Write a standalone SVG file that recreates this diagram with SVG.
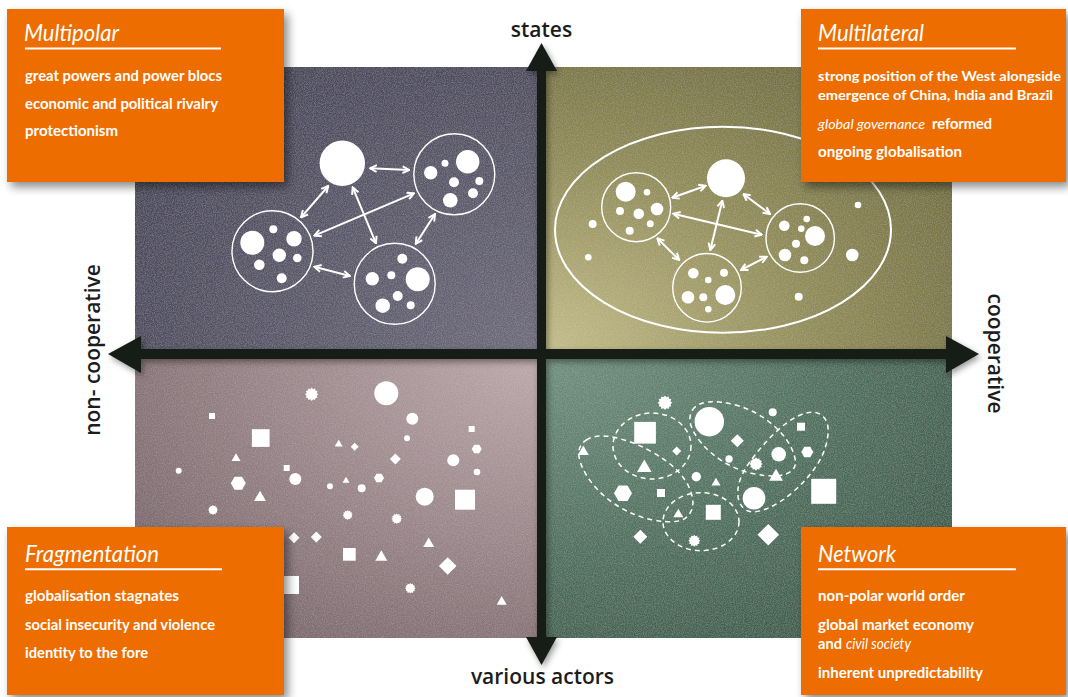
<svg xmlns="http://www.w3.org/2000/svg" xmlns:xlink="http://www.w3.org/1999/xlink" width="1068" height="697" viewBox="0 0 1068 697">
<defs>
<style>
.box{fill:#ee6d00;}
.ttl{font-family:Lato,"Open Sans","Liberation Sans",sans-serif;font-style:italic;font-size:24px;fill:#fff;}
.bd{font-family:Lato,"Open Sans","Liberation Sans",sans-serif;font-weight:700;font-size:15.5px;fill:#fff;}
.sm{font-size:14px;}
.it{font-style:italic;font-weight:400;}
.ul{stroke:#fff;stroke-width:2;}
.ax{font-family:"Open Sans","Liberation Sans",sans-serif;font-weight:600;font-size:21px;fill:#1c1c1c;}
.ring{fill:none;stroke:#fff;stroke-width:1.4;}
.dot{fill:#fff;}
.arr{stroke:#fff;stroke-width:2;fill:none;marker-start:url(#ah);marker-end:url(#ah);}
.dash{fill:none;stroke:#fff;stroke-width:1.5;stroke-dasharray:5 4;}
.w{fill:#fff;}
</style>
<marker id="ah" viewBox="0 0 10 10" refX="9" refY="5" markerWidth="9" markerHeight="9" markerUnits="userSpaceOnUse" orient="auto-start-reverse">
<path d="M1.5,1.2 L9,5 L1.5,8.8" fill="none" stroke="#fff" stroke-width="2.2"/>
</marker>
<path id="star" d="M10,0 L7.53,2.02 L8.66,5 L5.52,5.52 L5,8.66 L2.02,7.53 L0,10 L-2.02,7.53 L-5,8.66 L-5.52,5.52 L-8.66,5 L-7.53,2.02 L-10,0 L-7.53,-2.02 L-8.66,-5 L-5.52,-5.52 L-5,-8.66 L-2.02,-7.53 L0,-10 L2.02,-7.53 L5,-8.66 L5.52,-5.52 L8.66,-5 L7.53,-2.02 Z"/>
<path id="tri" d="M0,-10 L10,7.3 L-10,7.3 Z"/>
<path id="dia" d="M0,-10 L10,0 L0,10 L-10,0 Z"/>
<path id="hex" d="M10,0 L5,8.66 L-5,8.66 L-10,0 L-5,-8.66 L5,-8.66 Z"/>
<radialGradient id="gTL" cx="1" cy="1" r="1.25"><stop offset="0" stop-color="#6d6a7b"/><stop offset="1" stop-color="#464457"/></radialGradient>
<radialGradient id="gTR" cx="0" cy="1" r="1.25"><stop offset="0" stop-color="#c3bc88"/><stop offset="0.55" stop-color="#8f8a55"/><stop offset="1" stop-color="#6e693b"/></radialGradient>
<radialGradient id="gBL" cx="1" cy="0" r="1.25"><stop offset="0" stop-color="#bba8ab"/><stop offset="0.55" stop-color="#988488"/><stop offset="1" stop-color="#78656a"/></radialGradient>
<radialGradient id="gBR" cx="0" cy="0" r="1.25"><stop offset="0" stop-color="#70907f"/><stop offset="0.55" stop-color="#4f705f"/><stop offset="1" stop-color="#3b5a4a"/></radialGradient>
<filter id="grain" x="0" y="0" width="1" height="1">
<feTurbulence type="fractalNoise" baseFrequency="0.9" numOctaves="2" seed="4" result="n"/>
<feColorMatrix in="n" type="matrix" values="0 0 0 0 1  0 0 0 0 1  0 0 0 0 1  0.25 0 0 0 -0.09" result="w"/>
<feComposite in="w" in2="SourceGraphic" operator="in" result="wi"/>
<feMerge><feMergeNode in="SourceGraphic"/><feMergeNode in="wi"/></feMerge>
</filter>
<filter id="sh" x="-10%" y="-10%" width="125%" height="125%">
<feDropShadow dx="4" dy="5" stdDeviation="5" flood-color="#000" flood-opacity="0.45"/>
</filter>
<filter id="ash" x="-10%" y="-10%" width="120%" height="120%">
<feDropShadow dx="2" dy="3" stdDeviation="3" flood-color="#000" flood-opacity="0.4"/>
</filter>
</defs>

<rect width="1068" height="697" fill="#fff"/>

<g id="quadrants" filter="url(#grain)">
<rect x="135" y="67" width="402" height="282" fill="url(#gTL)"/>
<rect x="546" y="67" width="406" height="282" fill="url(#gTR)"/>
<rect x="135" y="359" width="402" height="279" fill="url(#gBL)"/>
<rect x="546" y="359" width="406" height="279" fill="url(#gBR)"/>
</g>

<g id="multipolar-graphic">
<circle class="dot" cx="342.3" cy="163.3" r="22.7"/>
<circle class="ring" cx="454.3" cy="174.3" r="40.5"/>
<circle class="dot" cx="467.7" cy="161.7" r="11.7"/>
<circle class="dot" cx="445" cy="163.3" r="3.5"/>
<circle class="dot" cx="430.7" cy="172.7" r="6.7"/>
<circle class="dot" cx="454" cy="182.3" r="5"/>
<circle class="dot" cx="479.3" cy="181" r="4"/>
<circle class="dot" cx="473" cy="193.3" r="5"/>
<circle class="dot" cx="450.3" cy="200.3" r="7.3"/>
<circle class="ring" cx="272.5" cy="251.2" r="40.5"/>
<circle class="dot" cx="252.3" cy="242.7" r="12"/>
<circle class="dot" cx="273.3" cy="229.3" r="4"/>
<circle class="dot" cx="294" cy="238.7" r="7.7"/>
<circle class="dot" cx="279.3" cy="255.3" r="6.7"/>
<circle class="dot" cx="297.3" cy="258" r="4.3"/>
<circle class="dot" cx="259.3" cy="264.7" r="5.3"/>
<circle class="dot" cx="281.7" cy="278.3" r="5"/>
<circle class="ring" cx="394.7" cy="283.8" r="40.5"/>
<circle class="dot" cx="417.7" cy="279.3" r="12"/>
<circle class="dot" cx="402.3" cy="258.7" r="5"/>
<circle class="dot" cx="372.3" cy="278.7" r="6.7"/>
<circle class="dot" cx="391.3" cy="275.3" r="4"/>
<circle class="dot" cx="397.7" cy="296" r="5"/>
<circle class="dot" cx="382.7" cy="305.7" r="7.3"/>
<circle class="dot" cx="410.7" cy="305.3" r="4"/>
</g>

<g id="multilateral-graphic">
<ellipse class="ring" cx="723" cy="229.7" rx="168" ry="103" style="stroke-width:2"/>
<circle class="dot" cx="726" cy="178.3" r="19"/>
<circle class="ring" cx="636.2" cy="207.2" r="34.5"/>
<circle class="dot" cx="625.7" cy="191.7" r="10"/>
<circle class="dot" cx="647" cy="192.3" r="3.3"/>
<circle class="dot" cx="657" cy="209" r="6.3"/>
<circle class="dot" cx="638.7" cy="213.7" r="5.3"/>
<circle class="dot" cx="620" cy="211" r="4"/>
<circle class="dot" cx="650.3" cy="223.7" r="3.5"/>
<circle class="dot" cx="629.7" cy="230.7" r="4"/>
<circle class="ring" cx="800.2" cy="238" r="34.2"/>
<circle class="dot" cx="815" cy="236" r="10"/>
<circle class="dot" cx="784.3" cy="225.7" r="5.3"/>
<circle class="dot" cx="806.7" cy="219" r="3.3"/>
<circle class="dot" cx="801.3" cy="228.7" r="3.3"/>
<circle class="dot" cx="796" cy="243.7" r="4"/>
<circle class="dot" cx="785" cy="255" r="6.3"/>
<circle class="dot" cx="804.3" cy="260.3" r="4"/>
<circle class="ring" cx="707" cy="287.8" r="34.3"/>
<circle class="dot" cx="725.3" cy="295" r="10"/>
<circle class="dot" cx="693.3" cy="273.3" r="5.3"/>
<circle class="dot" cx="708.3" cy="280" r="3.3"/>
<circle class="dot" cx="724" cy="272.7" r="4"/>
<circle class="dot" cx="688" cy="297.3" r="6.3"/>
<circle class="dot" cx="703.3" cy="297.3" r="4"/>
<circle class="dot" cx="708.3" cy="309.3" r="3.3"/>
<circle class="dot" cx="592.7" cy="224" r="4"/>
<circle class="dot" cx="588.3" cy="257.3" r="3.3"/>
<circle class="dot" cx="858" cy="205" r="3.3"/>
<circle class="dot" cx="852.3" cy="255" r="6.3"/>
<circle class="dot" cx="798.7" cy="296.7" r="4"/>
</g>

<g id="connectors">
<line class="arr" x1="370" y1="168.3" x2="409.3" y2="170"/>
<line class="arr" x1="328.3" y1="186" x2="301" y2="217.3"/>
<line class="arr" x1="352.7" y1="187.3" x2="376" y2="243.3"/>
<line class="arr" x1="414" y1="193.3" x2="314.3" y2="235.7"/>
<line class="arr" x1="435" y1="214" x2="415.7" y2="244"/>
<line class="arr" x1="314.3" y1="266.7" x2="350" y2="276"/>
<line class="arr" x1="705.7" y1="185.7" x2="672.3" y2="197.7"/>
<line class="arr" x1="743.3" y1="194" x2="770" y2="214"/>
<line class="arr" x1="722.3" y1="200.7" x2="710.3" y2="250"/>
<line class="arr" x1="673.3" y1="213.7" x2="761.7" y2="234.7"/>
<line class="arr" x1="657.3" y1="238.3" x2="679.3" y2="260"/>
<line class="arr" x1="741" y1="270" x2="766.7" y2="256.7"/>
</g>

<g id="fragmentation-graphic" class="w">
<use href="#star" transform="translate(311.7,394.3) scale(0.67)"/>
<circle cx="386.3" cy="393.3" r="12"/>
<rect x="209" y="413" width="6" height="6"/>
<rect x="251.9" y="429.2" width="17.7" height="17.7"/>
<circle cx="412.3" cy="418.7" r="6"/>
<circle cx="407" cy="438.3" r="3"/>
<rect x="468.7" y="426" width="6" height="6"/>
<use href="#tri" transform="translate(338.7,443.7) scale(0.4)"/>
<use href="#dia" transform="translate(354.7,446.7) scale(0.4)"/>
<use href="#dia" transform="translate(395.3,459) scale(0.55)"/>
<use href="#hex" transform="translate(476.7,449) scale(0.5)"/>
<circle cx="453.3" cy="460.3" r="6"/>
<circle cx="477" cy="472" r="3.3"/>
<use href="#tri" transform="translate(236,457.7) scale(0.45)"/>
<circle cx="178.7" cy="470.7" r="3"/>
<rect x="283.7" y="465" width="6" height="6"/>
<circle cx="295.3" cy="479" r="6"/>
<use href="#hex" transform="translate(238.3,483.3) scale(0.75)"/>
<circle cx="330" cy="486.3" r="3"/>
<use href="#tri" transform="translate(346,480.3) scale(0.35)"/>
<circle cx="361.7" cy="488.3" r="4"/>
<use href="#hex" transform="translate(379,478) scale(0.5)"/>
<use href="#tri" transform="translate(260,496.7) scale(0.6)"/>
<circle cx="424.7" cy="496.7" r="9"/>
<rect x="455" y="489.7" width="20" height="20"/>
<use href="#star" transform="translate(213,510) scale(0.5)"/>
<use href="#star" transform="translate(347.7,515) scale(0.5)"/>
<use href="#star" transform="translate(396.7,518.7) scale(0.53)"/>
<use href="#dia" transform="translate(294,537.7) scale(0.55)"/>
<use href="#dia" transform="translate(316.3,537) scale(0.55)"/>
<use href="#tri" transform="translate(428.7,543) scale(0.55)"/>
<rect x="343" y="548" width="12.7" height="12.7"/>
<use href="#tri" transform="translate(381.3,556.3) scale(0.6)"/>
<use href="#dia" transform="translate(447.7,566) scale(0.88)"/>
<rect x="281" y="576" width="18" height="18"/>
<use href="#star" transform="translate(410.3,588.3) scale(0.53)"/>
<use href="#tri" transform="translate(501.7,601) scale(0.5)"/>
</g>

<g id="network-graphic">
<path class="dash" d="M586.3,440 Q596.7,433.3 615,437.5 Q633.3,441.7 650,450.8 Q666.7,460 676.7,470 Q686.7,480 690.8,491.7 Q695,503.3 690.8,511.7 Q686.7,520 676.7,521.3 Q666.7,522.7 651.7,519.7 Q636.7,516.7 621.7,508.3 Q606.7,500 595,486.7 Q583.3,473.3 579.7,460 Q576,446.7 586.3,440 Z"/>
<ellipse class="dash" cx="652" cy="446" rx="39" ry="33"/>
<path class="dash" d="M692.5,410 Q696.7,403.3 708.3,402 Q720,400.7 736.7,405.3 Q753.3,410 766.7,420 Q780,430 786.7,440 Q793.3,450 795,458.3 Q796.7,466.7 791.7,470.8 Q786.7,475 776.7,475.8 Q766.7,476.7 751.7,473.3 Q736.7,470 723.3,461.7 Q710,453.3 701.7,443.3 Q693.3,433.3 690.8,425 Q688.3,416.7 692.5,410 Z"/>
<path class="dash" d="M823.3,416.7 Q830,423.3 827.5,438.3 Q825,453.3 815.8,466.7 Q806.7,480 793.3,491.7 Q780,503.3 766.7,508.7 Q753.3,514 746.7,510.3 Q740,506.7 738.3,498.3 Q736.7,490 740,480 Q743.3,470 755,455 Q766.7,440 780,428.3 Q793.3,416.7 805,413.3 Q816.7,410 823.3,416.7 Z"/>
<ellipse class="dash" cx="701" cy="521.7" rx="38" ry="29"/>
<g class="w">
<use href="#star" transform="translate(665,402.7) scale(0.73)"/>
<circle cx="709.3" cy="421.7" r="14.7"/>
<circle cx="772.7" cy="412.3" r="4"/>
<rect x="634.2" y="421.9" width="21.7" height="21.7"/>
<rect x="797" y="422.7" width="8" height="8"/>
<use href="#dia" transform="translate(737.3,440.7) scale(0.65)"/>
<use href="#dia" transform="translate(676.7,451) scale(0.45)"/>
<use href="#tri" transform="translate(583.3,451) scale(0.55)"/>
<use href="#tri" transform="translate(644.3,466.7) scale(0.73)"/>
<circle cx="778.7" cy="454.3" r="7.3"/>
<use href="#hex" transform="translate(807.3,452) scale(0.6)"/>
<circle cx="729" cy="459" r="3.7"/>
<use href="#star" transform="translate(756,464) scale(0.67)"/>
<use href="#tri" transform="translate(776,475.7) scale(0.7)"/>
<circle cx="696.3" cy="476.7" r="4.7"/>
<use href="#tri" transform="translate(716,482.3) scale(0.45)"/>
<use href="#hex" transform="translate(623,493.3) scale(0.9)"/>
<rect x="657" y="489" width="8" height="8"/>
<circle cx="754" cy="498.3" r="11.3"/>
<rect x="811.2" y="478.8" width="25" height="25"/>
<use href="#tri" transform="translate(678.3,513.7) scale(0.5)"/>
<rect x="705.8" y="504.8" width="15" height="15"/>
<use href="#dia" transform="translate(640.3,536.7) scale(0.7)"/>
<use href="#star" transform="translate(694.3,540.7) scale(0.6)"/>
<use href="#dia" transform="translate(768.3,534.7) scale(1.08)"/>
</g>
</g>

<g id="axes" filter="url(#ash)" fill="#171a19">
<rect x="537" y="70" width="9" height="568"/>
<rect x="140" y="349" width="807" height="10"/>
<polygon points="541.5,43 557,71 526,71"/>
<polygon points="541.5,665 557,637 526,637"/>
<polygon points="108,354 141,336 141,373"/>
<polygon points="979,354 946,336 946,373"/>
</g>

<g id="axis-labels">
<text class="ax" x="541.5" y="37" text-anchor="middle">states</text>
<text class="ax" x="542.5" y="684" text-anchor="middle">various actors</text>
<text class="ax" transform="translate(100,350) rotate(-90)" text-anchor="middle">non- cooperative</text>
<text class="ax" transform="translate(988,353.5) rotate(90)" text-anchor="middle">cooperative</text>
</g>

<g id="multipolar">
<rect class="box" x="7" y="9" width="277" height="173" filter="url(#sh)"/>
<text class="ttl" x="24" y="41" textLength="95" lengthAdjust="spacingAndGlyphs">Multipolar</text>
<line class="ul" x1="25" y1="48.5" x2="221" y2="48.5"/>
<text class="bd" x="25" y="81" textLength="197" lengthAdjust="spacingAndGlyphs">great powers and power blocs</text>
<text class="bd" x="25" y="108.5" textLength="193" lengthAdjust="spacingAndGlyphs">economic and political rivalry</text>
<text class="bd" x="25" y="136" textLength="93" lengthAdjust="spacingAndGlyphs">protectionism</text>
</g>

<g id="multilateral">
<rect class="box" x="801" y="9" width="265" height="173" filter="url(#sh)"/>
<text class="ttl" x="818" y="41" textLength="106" lengthAdjust="spacingAndGlyphs">Multilateral</text>
<line class="ul" x1="818" y1="48.5" x2="1016" y2="48.5"/>
<text class="bd sm" x="818" y="80.5" textLength="243" lengthAdjust="spacingAndGlyphs">strong position of the West alongside</text>
<text class="bd sm" x="818" y="100" textLength="235" lengthAdjust="spacingAndGlyphs">emergence of China, India and Brazil</text>
<text class="bd it" x="818" y="128.5" textLength="107" lengthAdjust="spacingAndGlyphs" style="font-size:13px">global governance</text>
<text class="bd" x="932" y="128.5" textLength="60" lengthAdjust="spacingAndGlyphs">reformed</text>
<text class="bd" x="818" y="157" textLength="144" lengthAdjust="spacingAndGlyphs">ongoing globalisation</text>
</g>

<g id="fragmentation">
<rect class="box" x="7" y="527" width="277" height="168" filter="url(#sh)"/>
<text class="ttl" x="25" y="562" textLength="134" lengthAdjust="spacingAndGlyphs">Fragmentation</text>
<line class="ul" x1="25" y1="569.3" x2="222" y2="569.3"/>
<text class="bd" x="25" y="601" textLength="154" lengthAdjust="spacingAndGlyphs">globalisation stagnates</text>
<text class="bd" x="25" y="629.5" textLength="190" lengthAdjust="spacingAndGlyphs">social insecurity and violence</text>
<text class="bd" x="25" y="658" textLength="123" lengthAdjust="spacingAndGlyphs">identity to the fore</text>
</g>

<g id="network">
<rect class="box" x="801" y="527" width="265" height="168" filter="url(#sh)"/>
<text class="ttl" x="818" y="562" textLength="78" lengthAdjust="spacingAndGlyphs">Network</text>
<line class="ul" x1="818" y1="569.3" x2="1016" y2="569.3"/>
<text class="bd" x="818" y="601" textLength="147" lengthAdjust="spacingAndGlyphs">non-polar world order</text>
<text class="bd" x="818" y="629.5" textLength="156" lengthAdjust="spacingAndGlyphs">global market economy</text>
<text class="bd" x="818" y="649" textLength="24" lengthAdjust="spacingAndGlyphs">and</text>
<text class="bd it" x="846" y="649" textLength="65" lengthAdjust="spacingAndGlyphs">civil society</text>
<text class="bd" x="818" y="677.5" textLength="165" lengthAdjust="spacingAndGlyphs">inherent unpredictability</text>
</g>
</svg>
